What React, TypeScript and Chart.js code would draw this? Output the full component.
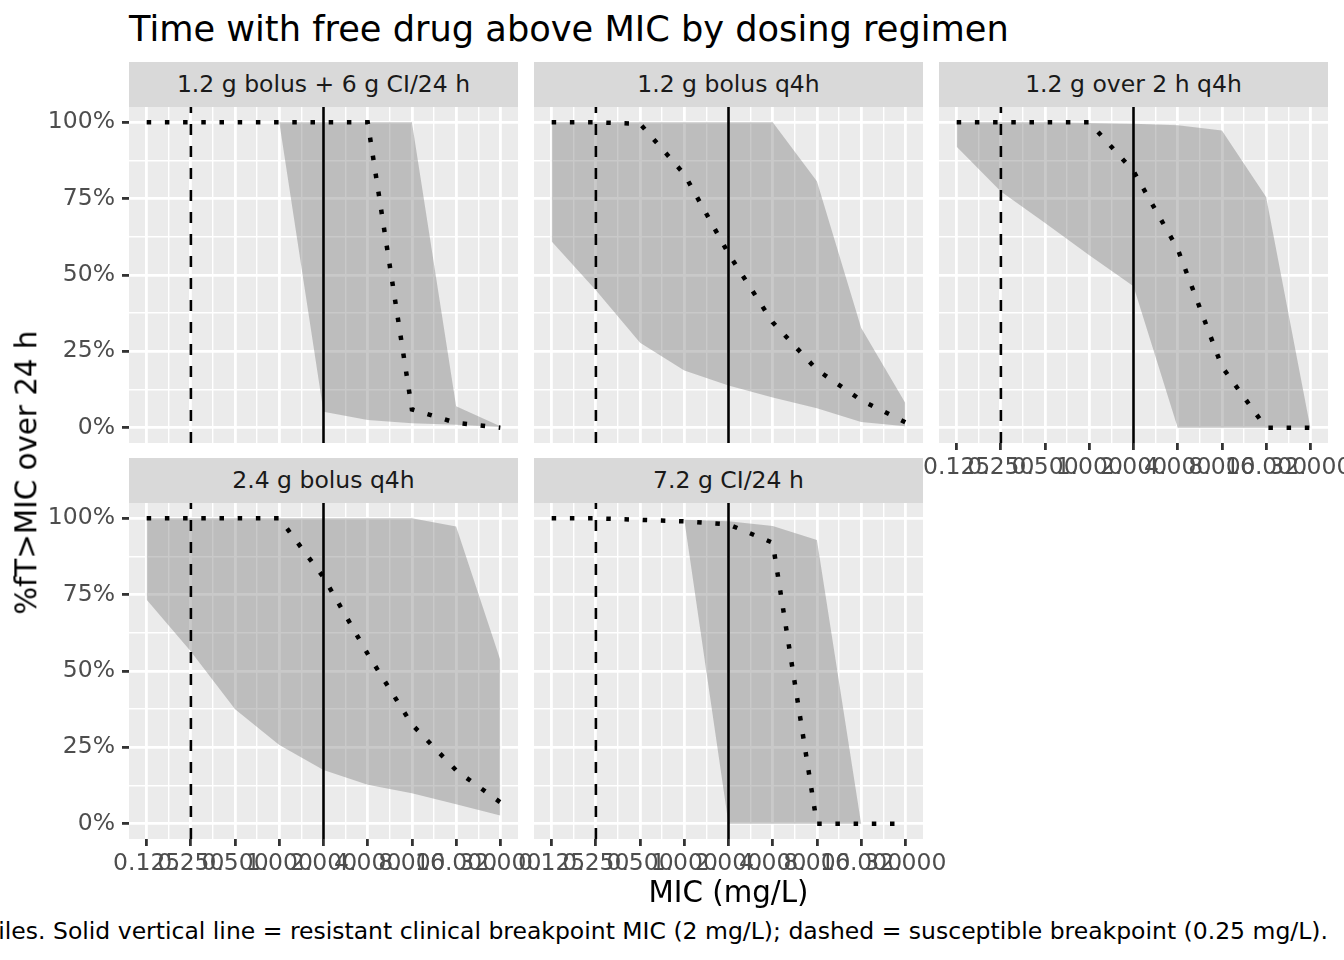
import { useEffect, useRef } from 'react';
import { Chart, registerables } from 'chart.js';

Chart.register(...registerables);
Chart.defaults.font.family = "'DejaVu Sans', sans-serif";

// MIC grid (mg/L) and axis labels
const micValues = [0.125, 0.25, 0.5, 1, 2, 4, 8, 16, 32];
const xTickLabels = ['0.125', '0.250', '0.500', '1.000', '2.000', '4.000', '8.000', '16.000', '32.000'];
const yTickValues = [0, 25, 50, 75, 100];
const yTickLabels = ['0%', '25%', '50%', '75%', '100%'];

const regimens = [
  '1.2 g bolus + 6 g CI/24 h',
  '1.2 g bolus q4h',
  '1.2 g over 2 h q4h',
  '2.4 g bolus q4h',
  '7.2 g CI/24 h',
];

// %fT>MIC: median and percentile band per regimen
const medianBolusCI = [100, 100, 100, 100, 100, 100, 6, 1.6, 0];
const lowerBolusCI = [100, 100, 100, 100, 5.2, 2.5, 1.5, 1, 0.2];
const upperBolusCI = [100, 100, 100, 100, 100, 100, 100, 7, 0.5];

const medianBolus12 = [100, 100, 99.5, 83, 57, 34.5, 19, 9, 1.8];
const lowerBolus12 = [61, 45, 27.8, 18.7, 13.8, 9.9, 6.4, 1.9, 0.5];
const upperBolus12 = [100, 100, 100, 100, 100, 100, 80.7, 32.7, 8.1];

const medianInfusion2h = [100, 100, 100, 100, 84, 58.5, 20, 0, 0];
const lowerInfusion2h = [92, 77.3, 67, 56.5, 46.3, 0, 0, 0, 0];
const upperInfusion2h = [100, 100, 100, 99.8, 99.5, 99, 97.3, 75.5, 0];

const medianBolus24 = [100, 100, 100, 100, 80.7, 55.6, 32.5, 17.5, 7];
const lowerBolus24 = [73.3, 56.4, 37.5, 25.8, 17.6, 12.8, 10, 6.4, 2.7];
const upperBolus24 = [100, 100, 100, 100, 100, 100, 100, 97.3, 53.6];

const medianCI72 = [100, 100, 99.5, 99, 98, 92, 0, 0, 0];
const lowerCI72 = [100, 100, 99.5, 99.5, 0, 0, 0, 0, 0];
const upperCI72 = [100, 100, 99.5, 99.5, 99, 97.5, 92.9, 0, 0];

const resistantBreakpoint = 2;
const susceptibleBreakpoint = 0.25;

const panels = [
  { label: regimens[0], median: medianBolusCI, lower: lowerBolusCI, upper: upperBolusCI },
  { label: regimens[1], median: medianBolus12, lower: lowerBolus12, upper: upperBolus12 },
  { label: regimens[2], median: medianInfusion2h, lower: lowerInfusion2h, upper: upperInfusion2h },
  { label: regimens[3], median: medianBolus24, lower: lowerBolus24, upper: upperBolus24 },
  { label: regimens[4], median: medianCI72, lower: lowerCI72, upper: upperCI72 },
];

// scale ranges with ggplot-style 5% expansion
const logMic = micValues.map((m) => Math.log2(m));
const xLo = logMic[0];
const xHi = logMic[logMic.length - 1];
const xMin = xLo - 0.05 * (xHi - xLo);
const xMax = xHi + 0.05 * (xHi - xLo);
const yMin = -5;
const yMax = 105;

const xMinor = logMic.slice(1).map((v, i) => (v + logMic[i]) / 2);
const yMinor = yTickValues.slice(1).map((v, i) => (v + yTickValues[i]) / 2);
const xGrid = [...logMic, ...xMinor].sort((a, b) => a - b);
const yGrid = [...yTickValues, ...yMinor].sort((a, b) => a - b);

const isMajor = (list: number[], v: number) => list.some((m) => Math.abs(m - v) < 1e-9);

// layout
const PANEL_W = 389;
const PANEL_H = 336;
const COL_LEFT = [129, 534, 939];
const ROW_TOP = [107, 503];
const STRIP_H = 45;
const SIDE = 100;
const TOP_PAD = 25;
const X_AXIS_H = 45;

const TICK_FONT = 23.5;
const PANEL_BG = '#EBEBEB';
const RIBBON = 'rgba(127,127,127,0.42)';

const panelBg = {
  id: 'panelBg',
  beforeDraw(chart: any) {
    const { ctx, chartArea } = chart;
    ctx.save();
    ctx.fillStyle = PANEL_BG;
    ctx.fillRect(chartArea.left, chartArea.top, chartArea.right - chartArea.left, chartArea.bottom - chartArea.top);
    ctx.restore();
  },
};

function Panel({ idx }: { idx: number }) {
  const ref = useRef<HTMLCanvasElement>(null);
  const p = panels[idx];
  const row = Math.floor(idx / 3);
  const col = idx % 3;
  const showX = row === 1 || col === 2;
  const showY = col === 0;

  useEffect(() => {
    if (!ref.current) return;
    const pts = (ys: number[]) => micValues.map((m, i) => ({ x: Math.log2(m), y: ys[i] }));
    const vline = (m: number) => [
      { x: Math.log2(m), y: yMin },
      { x: Math.log2(m), y: yMax },
    ];

    const chart = new Chart(ref.current, {
      type: 'scatter',
      data: {
        datasets: [
          { data: pts(p.upper), showLine: true, borderWidth: 0, pointRadius: 0, fill: '+1', backgroundColor: RIBBON, order: 3 },
          { data: pts(p.lower), showLine: true, borderWidth: 0, pointRadius: 0, fill: false, order: 3 },
          {
            data: vline(susceptibleBreakpoint), showLine: true, borderColor: '#000000', borderWidth: 2.6,
            borderDash: [11, 11], pointRadius: 0, order: 2,
          },
          { data: vline(resistantBreakpoint), showLine: true, borderColor: '#000000', borderWidth: 2.6, pointRadius: 0, order: 2 },
          {
            data: pts(p.median), showLine: true, borderColor: '#000000', borderWidth: 4.5,
            borderDash: [4.5, 13.7], pointRadius: 0, order: 1,
          },
        ],
      },
      options: {
        responsive: false,
        animation: false,
        events: [],
        layout: {
          padding: { left: showY ? 0 : SIDE, right: SIDE, top: TOP_PAD, bottom: showX ? 0 : X_AXIS_H },
        },
        plugins: {
          legend: { display: false },
          tooltip: { enabled: false },
        },
        scales: {
          x: {
            type: 'linear',
            min: xMin,
            max: xMax,
            border: { display: false },
            afterBuildTicks: (s: any) => {
              s.ticks = xGrid.map((v) => ({ value: v }));
            },
            afterFit: (s: any) => {
              s.height = showX ? X_AXIS_H : 0;
            },
            grid: {
              color: '#FFFFFF',
              lineWidth: (c: any) => (c.tick && isMajor(logMic, c.tick.value) ? 2.8 : 1.4),
              drawTicks: showX,
              tickLength: 7,
              tickWidth: 2.8,
              tickColor: (c: any) => (c.tick && isMajor(logMic, c.tick.value) ? '#333333' : 'rgba(0,0,0,0)'),
            },
            ticks: {
              display: showX,
              autoSkip: false,
              maxRotation: 0,
              minRotation: 0,
              padding: 4,
              color: '#4D4D4D',
              font: { size: TICK_FONT },
              callback: (v: any) => {
                const i = logMic.findIndex((m) => Math.abs(m - v) < 1e-9);
                return i >= 0 ? xTickLabels[i] : '';
              },
            },
          },
          y: {
            type: 'linear',
            min: yMin,
            max: yMax,
            border: { display: false },
            afterBuildTicks: (s: any) => {
              s.ticks = yGrid.map((v) => ({ value: v }));
            },
            afterFit: (s: any) => {
              s.width = showY ? SIDE : 0;
            },
            grid: {
              color: '#FFFFFF',
              lineWidth: (c: any) => (c.tick && isMajor(yTickValues, c.tick.value) ? 2.8 : 1.4),
              drawTicks: showY,
              tickLength: 7,
              tickWidth: 2.8,
              tickColor: (c: any) => (c.tick && isMajor(yTickValues, c.tick.value) ? '#333333' : 'rgba(0,0,0,0)'),
            },
            ticks: {
              display: showY,
              autoSkip: false,
              padding: 7,
              color: '#4D4D4D',
              font: { size: TICK_FONT },
              callback: (v: any) => {
                const i = yTickValues.indexOf(v);
                return i >= 0 ? yTickLabels[i] : '';
              },
            },
          },
        },
      } as any,
      plugins: [panelBg],
    });

    return () => {
      chart.destroy();
    };
  }, [idx]);

  const left = COL_LEFT[col];
  const top = ROW_TOP[row];
  return (
    <>
      <div
        style={{
          position: 'absolute',
          left,
          top: top - STRIP_H,
          width: PANEL_W,
          height: STRIP_H,
          background: '#D9D9D9',
          color: '#1A1A1A',
          fontSize: TICK_FONT,
          lineHeight: 1,
          display: 'flex',
          alignItems: 'center',
          justifyContent: 'center',
          whiteSpace: 'nowrap',
        }}
      >
        {p.label}
      </div>
      <canvas
        ref={ref}
        width={SIDE + PANEL_W + SIDE}
        height={TOP_PAD + PANEL_H + X_AXIS_H}
        style={{ position: 'absolute', left: left - SIDE, top: top - TOP_PAD }}
      />
    </>
  );
}

export default function App() {
  return (
    <div
      style={{
        position: 'absolute',
        left: 0,
        top: 0,
        width: 1344,
        height: 960,
        background: '#FFFFFF',
        overflow: 'hidden',
        fontFamily: "'DejaVu Sans', sans-serif",
      }}
    >
      <div style={{ position: 'absolute', left: 129, top: 11, fontSize: 35.2, lineHeight: 1, color: '#000', whiteSpace: 'nowrap' }}>
        Time with free drug above MIC by dosing regimen
      </div>

      {panels.map((_, i) => (
        <Panel key={i} idx={i} />
      ))}

      <div
        style={{
          position: 'absolute',
          left: 27 - 250,
          top: 473 - 14.65,
          width: 500,
          height: 29.3,
          fontSize: 29.3,
          lineHeight: 1,
          textAlign: 'center',
          transform: 'rotate(-90deg)',
          color: '#000',
          whiteSpace: 'nowrap',
        }}
      >
        %fT&gt;MIC over 24 h
      </div>

      <div
        style={{
          position: 'absolute',
          left: 129,
          top: 877.5,
          width: 1199,
          fontSize: 29.3,
          lineHeight: 1,
          textAlign: 'center',
          color: '#000',
        }}
      >
        MIC (mg/L)
      </div>

      <div
        style={{
          position: 'absolute',
          right: 16,
          top: 919.5,
          fontSize: 23.5,
          lineHeight: 1,
          color: '#000',
          whiteSpace: 'nowrap',
        }}
      >
        Dotted line = median; shaded band = 5th–95th percentiles. Solid vertical line = resistant clinical breakpoint MIC (2 mg/L); dashed = susceptible breakpoint (0.25 mg/L).
      </div>
    </div>
  );
}
